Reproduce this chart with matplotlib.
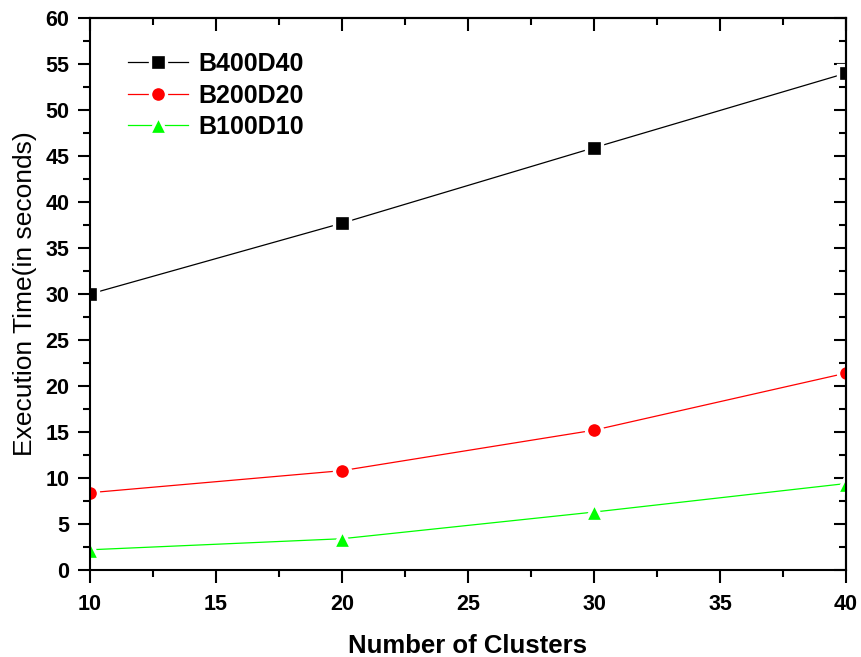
import matplotlib
matplotlib.use("Agg")
import matplotlib.pyplot as plt
from matplotlib.ticker import MultipleLocator

# DATA
clusters = [10, 20, 30, 40]
b400d40 = [30.0, 37.7, 45.9, 54.0]
b200d20 = [8.4, 10.8, 15.2, 21.4]
b100d10 = [2.2, 3.4, 6.3, 9.4]

series = [("B400D40", b400d40, "black", "s", 11),
          ("B200D20", b200d20, "#ff0000", "o", 11.5),
          ("B100D10", b100d10, "#00ff00", "^", 13)]

plt.rcParams['font.family'] = ['Liberation Sans', 'DejaVu Sans']

fig = plt.figure(figsize=(8.61, 6.57), dpi=100)
ax = fig.add_axes([0.1045, 0.1324, 0.8781, 0.8402])

for name, vals, col, mk, ms in series:
    ax.plot(clusters, vals, color=col, lw=0.9, marker=mk, markersize=ms,
            markerfacecolor=col, markeredgecolor="white", markeredgewidth=2.4,
            label=name)

ax.set_xlim(10, 40)
ax.set_ylim(0, 60)
ax.xaxis.set_major_locator(MultipleLocator(5))
ax.xaxis.set_minor_locator(MultipleLocator(2.5))
ax.yaxis.set_major_locator(MultipleLocator(5))
ax.yaxis.set_minor_locator(MultipleLocator(2.5))

for s in ax.spines.values():
    s.set_linewidth(1.5)
ax.tick_params(which="major", direction="out", length=9, width=1.5, pad=6,
               labelsize=15.5)
ax.tick_params(axis="x", which="major", pad=8)
ax.tick_params(which="minor", direction="out", length=5, width=1.5)
for lab in ax.get_xticklabels() + ax.get_yticklabels():
    lab.set_fontweight("bold")

# mirrored axes, ticks pointing in
top = ax.secondary_xaxis("top")
top.xaxis.set_major_locator(MultipleLocator(5))
top.xaxis.set_minor_locator(MultipleLocator(2.5))
top.tick_params(which="major", direction="in", length=9, width=1.5, labeltop=False)
top.tick_params(which="minor", direction="in", length=5, width=1.5)
top.spines["top"].set_linewidth(1.5)
right = ax.secondary_yaxis("right")
right.yaxis.set_major_locator(MultipleLocator(5))
right.yaxis.set_minor_locator(MultipleLocator(2.5))
right.tick_params(which="major", direction="in", length=9, width=1.5, labelright=False)
right.tick_params(which="minor", direction="in", length=5, width=1.5)
right.spines["right"].set_linewidth(1.5)

ax.set_xlabel("Number of Clusters", fontsize=18.5, fontweight="bold", labelpad=14)
ax.set_ylabel("Execution Time(in seconds)", fontsize=19, labelpad=6)

leg = ax.legend(loc="upper left", bbox_to_anchor=(0.021, 0.979), frameon=False,
                prop={"size": 18, "weight": "bold"}, handlelength=2.4,
                handletextpad=0.4, labelspacing=0.3)

fig.savefig("out.png", dpi=100)
